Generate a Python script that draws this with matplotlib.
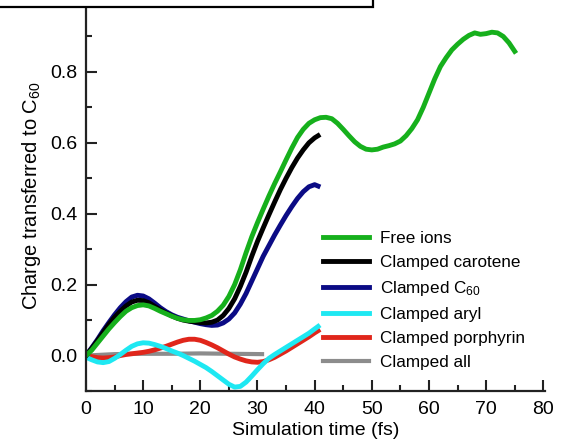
import matplotlib
matplotlib.use('Agg')
import matplotlib.pyplot as plt
from matplotlib.patches import Rectangle

plt.rcParams['font.family'] = ['Liberation Sans', 'DejaVu Sans']
plt.rcParams['mathtext.default'] = 'regular'

# Free ions
t_free = [0, 1, 2, 3, 4, 5, 6, 7, 8, 9, 10, 11, 12, 13, 14, 15, 16, 17, 18, 19,
          20, 21, 22, 23, 24, 25, 26, 27, 28, 29, 30, 31, 32, 33, 34, 35, 36, 37, 38, 39,
          40, 41, 42, 43, 44, 45, 46, 47, 48, 49, 50, 51, 52, 53, 54, 55, 56, 57, 58, 59,
          60, 61, 62, 63, 64, 65, 66, 67, 68, 69, 70, 71, 72, 73, 74, 75]
q_free = [0.0, 0.015, 0.035, 0.055, 0.075, 0.093, 0.11, 0.125, 0.135, 0.141,
          0.143, 0.14, 0.133, 0.125, 0.118, 0.111, 0.105, 0.101, 0.099, 0.099,
          0.101, 0.106, 0.113, 0.125, 0.142, 0.167, 0.2, 0.242, 0.29, 0.335,
          0.375, 0.413, 0.45, 0.485, 0.518, 0.552, 0.585, 0.615, 0.638, 0.655,
          0.665, 0.671, 0.672, 0.668, 0.655, 0.638, 0.62, 0.603, 0.59, 0.582,
          0.58, 0.582, 0.588, 0.592, 0.597, 0.605, 0.62, 0.64, 0.665, 0.7,
          0.74, 0.78, 0.815, 0.84, 0.862, 0.878, 0.892, 0.903, 0.91, 0.906,
          0.908, 0.912, 0.91, 0.9, 0.882, 0.858]

# Clamped runs
t_clamp = [0, 1, 2, 3, 4, 5, 6, 7, 8, 9, 10, 11, 12, 13, 14, 15, 16, 17, 18, 19,
           20, 21, 22, 23, 24, 25, 26, 27, 28, 29, 30, 31, 32, 33, 34, 35, 36, 37, 38, 39,
           40, 40.6]
q_carotene = [0.0, 0.02, 0.042, 0.065, 0.088, 0.108, 0.125, 0.14, 0.151, 0.156,
              0.155, 0.149, 0.139, 0.129, 0.12, 0.112, 0.105, 0.1, 0.097, 0.095,
              0.093, 0.092, 0.094, 0.1, 0.113, 0.133, 0.16, 0.195, 0.235, 0.28,
              0.322, 0.36, 0.397, 0.433, 0.468, 0.5, 0.53, 0.557, 0.58, 0.6,
              0.614, 0.62]
q_c60 = [0.0, 0.022, 0.045, 0.07, 0.093, 0.115, 0.135, 0.152, 0.165, 0.17,
         0.168, 0.16, 0.148, 0.135, 0.124, 0.115, 0.108, 0.103, 0.098, 0.094,
         0.09, 0.087, 0.085, 0.086, 0.092, 0.103, 0.12, 0.145, 0.175, 0.21,
         0.245, 0.28, 0.31, 0.34, 0.368, 0.395, 0.42, 0.443, 0.462, 0.476,
         0.482, 0.478]
q_aryl = [-0.005, -0.012, -0.018, -0.02, -0.017, -0.008, 0.003, 0.015, 0.026, 0.033,
          0.036, 0.035, 0.031, 0.026, 0.02, 0.013, 0.007, 0.0, -0.008, -0.016,
          -0.025, -0.034, -0.045, -0.057, -0.069, -0.081, -0.089, -0.087, -0.075, -0.058,
          -0.04, -0.023, -0.008, 0.003, 0.013, 0.023, 0.033, 0.043, 0.053, 0.063,
          0.075, 0.082]
q_porph = [0.0, -0.003, -0.006, -0.007, -0.006, -0.004, 0.0, 0.003, 0.005, 0.007,
           0.009, 0.012, 0.016, 0.021, 0.026, 0.032, 0.038, 0.043, 0.046, 0.046,
           0.043, 0.037, 0.03, 0.022, 0.013, 0.004, -0.004, -0.01, -0.015, -0.018,
           -0.019, -0.017, -0.012, -0.005, 0.004, 0.013, 0.023, 0.033, 0.043, 0.053,
           0.064, 0.07]

t_all = [0, 5, 10, 15, 20, 25, 30.8]
q_all = [0.0, 0.004, 0.005, 0.005, 0.006, 0.005, 0.004]

fig = plt.figure(figsize=(5.62, 4.41), dpi=100)
ax = fig.add_axes([86 / 562, 1 - 391 / 441, 459 / 562, 390 / 441])

lw = 3.5
l_all, = ax.plot(t_all, q_all, color='#8c8c8c', lw=3, label='Clamped all')
l_por, = ax.plot(t_clamp, q_porph, color='#e0261b', lw=lw, label='Clamped porphyrin')
l_ary, = ax.plot(t_clamp, q_aryl, color='#1ee8f2', lw=lw, label='Clamped aryl')
l_c60, = ax.plot(t_clamp, q_c60, color='#0b0b85', lw=lw, label='Clamped C$_{60}$')
l_car, = ax.plot(t_clamp, q_carotene, color='black', lw=lw, label='Clamped carotene')
l_free, = ax.plot(t_free, q_free, color='#16b01c', lw=lw, label='Free ions')

ax.set_xlim(0, 80.3)
ax.set_ylim(-0.1, 1.0)
ax.set_xticks(range(0, 81, 10))
ax.set_xticks(range(5, 80, 10), minor=True)
ax.set_yticks([0.0, 0.2, 0.4, 0.6, 0.8, 1.0])
ax.set_yticks([-0.1, 0.1, 0.3, 0.5, 0.7, 0.9], minor=True)
ax.tick_params(which='both', direction='in', width=1.5, color='#222222',
               labelsize=14)
ax.tick_params(which='major', length=8)
ax.tick_params(which='minor', length=4.5)
ax.tick_params(axis='x', pad=7)
ax.tick_params(axis='y', pad=6)
for s in ['top', 'right']:
    ax.spines[s].set_visible(False)
for s in ['left', 'bottom']:
    ax.spines[s].set_linewidth(1.6)
    ax.spines[s].set_color('#222222')

ax.set_xlabel('Simulation time (fs)', fontsize=14, labelpad=3)
ax.set_ylabel('Charge transferred to C$_{60}$', fontsize=14.5, labelpad=5)

ax.legend(handles=[l_free, l_car, l_c60, l_ary, l_por, l_all],
          loc='upper left', bbox_to_anchor=(0.516, 0.41), frameon=False,
          fontsize=12.3, borderpad=0, borderaxespad=0, handlelength=2.7,
          handletextpad=0.66, labelspacing=0.53)

# cropped box along the top edge
fig.add_artist(Rectangle((-0.02, 1 - 7 / 441), 0.02 + 373 / 562, 0.1,
                         transform=fig.transFigure, facecolor='white',
                         edgecolor='black', lw=1.6, zorder=10, clip_on=False))

fig.savefig('out.png', dpi=100)
